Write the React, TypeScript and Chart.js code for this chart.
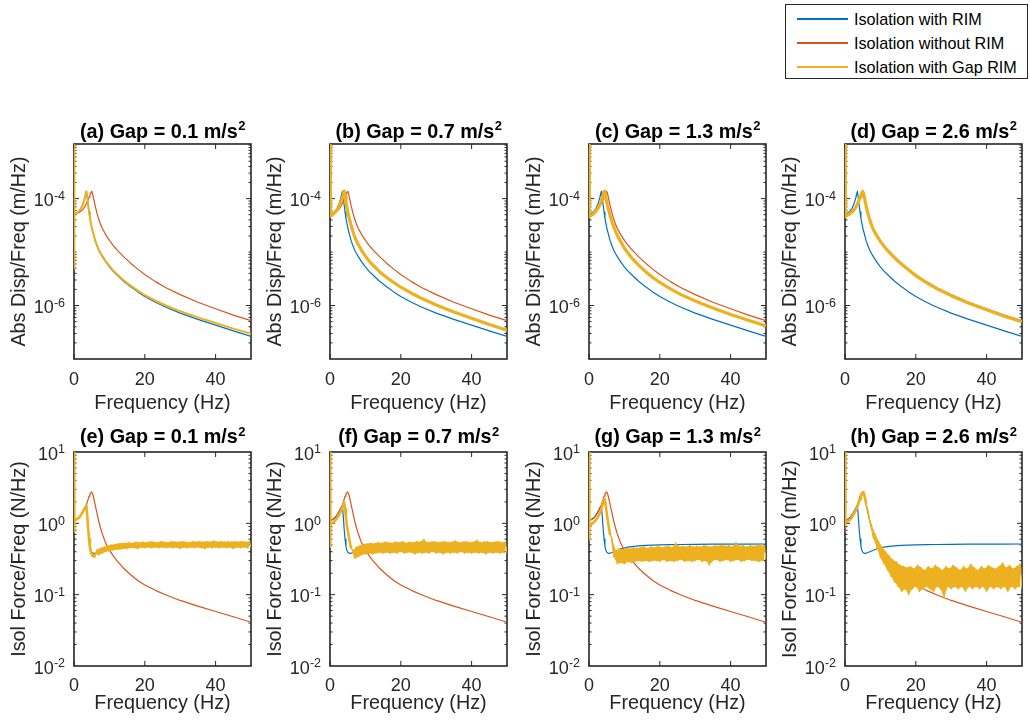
import React, { useEffect, useRef } from "react";
import { Chart, registerables } from "chart.js";

Chart.register(...registerables);

// ---------------- DATA ----------------
const LEGEND_LABELS = ["Isolation with RIM", "Isolation without RIM", "Isolation with Gap RIM"];
const PANEL_LETTERS = ["a", "b", "c", "d", "e", "f", "g", "h"];
const GAP_LEVELS = ["0.1", "0.7", "1.3", "2.6"];
const TITLE_UNIT = "m/s";
const TITLE_UNIT_EXP = "2";
const Y_LABELS_TOP = ["Abs Disp/Freq (m/Hz)", "Abs Disp/Freq (m/Hz)", "Abs Disp/Freq (m/Hz)", "Abs Disp/Freq (m/Hz)"];
const Y_LABELS_BOTTOM = ["Isol Force/Freq (N/Hz)", "Isol Force/Freq (N/Hz)", "Isol Force/Freq (N/Hz)", "Isol Force/Freq (m/Hz)"];
const X_LABEL = "Frequency (Hz)";

const X_TICKS = [0, 20, 40];
const X_TICK_LABELS = ["0", "20", "40"];
const DISP_TICKS = [1e-6, 1e-4];
const DISP_TICK_LABELS = [{ base: "10", exp: "-6" }, { base: "10", exp: "-4" }];
const FORCE_TICKS = [1e-2, 1e-1, 1, 10];
const FORCE_TICK_LABELS = [{ base: "10", exp: "-2" }, { base: "10", exp: "-1" }, { base: "10", exp: "0" }, { base: "10", exp: "1" }];
const DISP_RANGE = [1e-7, 1.05e-3];
const FORCE_RANGE = [1e-2, 10];

// frequency grid (Hz) for the smooth responses
const FREQ = [0, 0.05, 0.15, 0.5, 1, 1.5, 2, 2.5, 3, 3.25, 3.5, 3.75, 4, 4.25, 4.5, 4.75, 5, 5.25, 5.5, 5.75,
  6, 6.5, 7, 7.5, 8, 9, 10, 11, 12, 14, 16, 18, 20, 23, 26, 30, 35, 40, 45, 50];

// Abs Disp/Freq (m/Hz)
const DISP_RIM = [2e-2, 5.2e-5, 5.2e-5, 5.3e-5, 5.5e-5, 5.9e-5, 6.6e-5, 7.8e-5, 1.0e-4, 1.18e-4,
  1.37e-4, 1.05e-4, 7.6e-5, 5.6e-5, 4.3e-5, 3.5e-5, 2.9e-5, 2.45e-5, 2.15e-5, 1.85e-5,
  1.6e-5, 1.3e-5, 1.08e-5, 9.3e-6, 8.2e-6, 6.5e-6, 5.3e-6, 4.4e-6, 3.8e-6, 2.85e-6,
  2.25e-6, 1.8e-6, 1.48e-6, 1.15e-6, 9.3e-7, 7.2e-7, 5.5e-7, 4.3e-7, 3.35e-7, 2.65e-7];
const DISP_NO_RIM = [2e-2, 5.2e-5, 5.2e-5, 5.25e-5, 5.35e-5, 5.55e-5, 5.85e-5, 6.3e-5, 7.0e-5, 7.5e-5,
  8.1e-5, 8.8e-5, 9.7e-5, 1.07e-4, 1.18e-4, 1.28e-4, 1.37e-4, 1.22e-4, 1.02e-4, 8.6e-5,
  7.2e-5, 5.3e-5, 4.1e-5, 3.3e-5, 2.75e-5, 2.1e-5, 1.65e-5, 1.35e-5, 1.12e-5, 8.2e-6,
  6.2e-6, 4.8e-6, 3.8e-6, 2.8e-6, 2.15e-6, 1.6e-6, 1.15e-6, 8.7e-7, 6.6e-7, 5.2e-7];
const DISP_GAP_A = [2e-2, 5e-6, 5.2e-5, 5.3e-5, 5.5e-5, 5.9e-5, 6.6e-5, 7.8e-5, 1.0e-4, 1.18e-4,
  1.37e-4, 1.06e-4, 7.7e-5, 5.7e-5, 4.4e-5, 3.55e-5, 2.95e-5, 2.5e-5, 2.2e-5, 1.9e-5,
  1.64e-5, 1.33e-5, 1.11e-5, 9.6e-6, 8.5e-6, 6.7e-6, 5.5e-6, 4.6e-6, 3.95e-6, 2.97e-6,
  2.36e-6, 1.9e-6, 1.57e-6, 1.23e-6, 1.0e-6, 7.8e-7, 6.0e-7, 4.7e-7, 3.7e-7, 2.95e-7];
const DISP_GAP_B = [2e-2, 4.7e-5, 4.7e-5, 4.9e-5, 5.2e-5, 5.6e-5, 6.2e-5, 7.0e-5, 8.3e-5, 9.2e-5,
  1.04e-4, 1.2e-4, 1.38e-4, 1.12e-4, 8.8e-5, 7.0e-5, 5.7e-5, 4.8e-5, 4.1e-5, 3.55e-5,
  3.1e-5, 2.4e-5, 1.9e-5, 1.6e-5, 1.38e-5, 1.05e-5, 8.4e-6, 6.9e-6, 5.8e-6, 4.3e-6,
  3.35e-6, 2.7e-6, 2.2e-6, 1.7e-6, 1.35e-6, 1.02e-6, 7.6e-7, 5.8e-7, 4.4e-7, 3.45e-7];
const DISP_GAP_C = [2e-2, 4.6e-5, 4.6e-5, 4.8e-5, 5.0e-5, 5.4e-5, 5.9e-5, 6.6e-5, 7.6e-5, 8.3e-5,
  9.2e-5, 1.03e-4, 1.16e-4, 1.36e-4, 1.22e-4, 1.02e-4, 8.6e-5, 7.3e-5, 6.3e-5, 5.4e-5,
  4.7e-5, 3.65e-5, 2.95e-5, 2.45e-5, 2.05e-5, 1.55e-5, 1.18e-5, 9.6e-6, 7.9e-6, 5.7e-6,
  4.3e-6, 3.35e-6, 2.7e-6, 2.05e-6, 1.6e-6, 1.22e-6, 9.0e-7, 6.8e-7, 5.3e-7, 4.15e-7];
const DISP_GAP_D = [2e-2, 4.6e-5, 4.6e-5, 4.8e-5, 5.0e-5, 5.3e-5, 5.6e-5, 6.1e-5, 6.8e-5, 7.3e-5,
  7.9e-5, 8.6e-5, 9.5e-5, 1.05e-4, 1.16e-4, 1.27e-4, 1.36e-4, 1.24e-4, 1.03e-4, 8.6e-5,
  7.1e-5, 5.2e-5, 4.0e-5, 3.2e-5, 2.65e-5, 2.0e-5, 1.58e-5, 1.29e-5, 1.07e-5, 7.8e-6,
  5.9e-6, 4.6e-6, 3.62e-6, 2.67e-6, 2.05e-6, 1.53e-6, 1.1e-6, 8.3e-7, 6.3e-7, 5.0e-7];

// Isol Force/Freq
const FORCE_RIM = [100, 0.77, 1.11, 1.12, 1.16, 1.22, 1.32, 1.45, 1.62, 1.7,
  1.77, 1.25, 0.84, 0.6, 0.48, 0.42, 0.395, 0.385, 0.38, 0.38,
  0.383, 0.39, 0.4, 0.41, 0.42, 0.44, 0.455, 0.465, 0.472, 0.483,
  0.49, 0.495, 0.5, 0.503, 0.505, 0.508, 0.51, 0.511, 0.512, 0.513];
const FORCE_NO_RIM = [100, 0.77, 1.1, 1.11, 1.15, 1.2, 1.3, 1.43, 1.6, 1.7,
  1.82, 1.98, 2.18, 2.4, 2.58, 2.68, 2.75, 2.6, 2.35, 2.05,
  1.8, 1.38, 1.07, 0.86, 0.71, 0.52, 0.42, 0.355, 0.305, 0.235,
  0.19, 0.158, 0.137, 0.115, 0.099, 0.083, 0.069, 0.058, 0.049, 0.041];

// Gap RIM force: smooth part on FREQ[0..20] (0–6 Hz), noisy part on NOISE_FREQ
const NOISE_FREQ = [
  6.5, 7, 7.5, 8, 8.5, 9, 9.5, 10,
  10.5, 11, 11.5, 12, 12.5, 13, 13.5, 14,
  14.5, 15, 15.5, 16, 16.5, 17, 17.5, 18,
  18.5, 19, 19.5, 20, 20.5, 21, 21.5, 22,
  22.5, 23, 23.5, 24, 24.5, 25, 25.5, 26,
  26.5, 27, 27.5, 28, 28.5, 29, 29.5, 30,
  30.5, 31, 31.5, 32, 32.5, 33, 33.5, 34,
  34.5, 35, 35.5, 36, 36.5, 37, 37.5, 38,
  38.5, 39, 39.5, 40, 40.5, 41, 41.5, 42,
  42.5, 43, 43.5, 44, 44.5, 45, 45.5, 46,
  46.5, 47, 47.5, 48, 48.5, 49, 49.5, 50];

const FORCE_GAP_E_LOW = [100, 0.77, 1.1, 1.12, 1.16, 1.22, 1.32, 1.45, 1.62, 1.7,
  1.76, 1.25, 0.84, 0.6, 0.46, 0.4, 0.37, 0.35, 0.36, 0.34, 0.37];
const FORCE_GAP_F_LOW = [100, 0.47, 0.95, 1.0, 1.04, 1.1, 1.18, 1.3, 1.46, 1.56,
  1.68, 1.82, 1.98, 1.6, 1.2, 0.95, 0.8, 0.68, 0.58, 0.5, 0.44];
const FORCE_GAP_G_LOW = [100, 0.6, 0.9, 0.95, 1.0, 1.05, 1.12, 1.22, 1.38, 1.48,
  1.6, 1.75, 1.95, 2.15, 2.1, 1.75, 1.4, 1.15, 0.95, 0.8, 0.68];
const FORCE_GAP_H_LOW = [100, 0.95, 1.03, 1.05, 1.08, 1.13, 1.22, 1.34, 1.5, 1.6,
  1.72, 1.86, 2.02, 2.2, 2.4, 2.58, 2.7, 2.72, 2.45, 2.15, 1.85];

// alternating upper / lower readings of the noisy band
const FORCE_GAP_E_NOISE = [
  0.43, 0.36, 0.45, 0.38, 0.47, 0.40, 0.49, 0.41,
  0.50, 0.42, 0.51, 0.43, 0.52, 0.43, 0.53, 0.44,
  0.53, 0.44, 0.54, 0.45, 0.53, 0.45, 0.55, 0.44,
  0.54, 0.46, 0.55, 0.45, 0.54, 0.46, 0.56, 0.45,
  0.55, 0.46, 0.54, 0.45, 0.56, 0.46, 0.55, 0.45,
  0.54, 0.46, 0.56, 0.45, 0.55, 0.46, 0.55, 0.44,
  0.56, 0.46, 0.55, 0.45, 0.54, 0.46, 0.56, 0.45,
  0.55, 0.46, 0.56, 0.45, 0.55, 0.44, 0.56, 0.46,
  0.55, 0.45, 0.57, 0.46, 0.55, 0.45, 0.56, 0.46,
  0.55, 0.45, 0.56, 0.46, 0.55, 0.44, 0.56, 0.46,
  0.55, 0.45, 0.56, 0.46, 0.55, 0.45, 0.56, 0.46];
const FORCE_GAP_F_NOISE = [
  0.42, 0.32, 0.47, 0.34, 0.49, 0.36, 0.51, 0.37,
  0.52, 0.38, 0.53, 0.37, 0.52, 0.38, 0.54, 0.39,
  0.53, 0.38, 0.55, 0.39, 0.54, 0.38, 0.53, 0.39,
  0.55, 0.38, 0.54, 0.40, 0.56, 0.38, 0.53, 0.39,
  0.55, 0.39, 0.54, 0.37, 0.56, 0.39, 0.55, 0.38,
  0.60, 0.39, 0.54, 0.38, 0.55, 0.40, 0.56, 0.38,
  0.54, 0.39, 0.55, 0.37, 0.56, 0.39, 0.54, 0.38,
  0.55, 0.39, 0.57, 0.38, 0.54, 0.40, 0.55, 0.38,
  0.56, 0.39, 0.54, 0.38, 0.55, 0.39, 0.58, 0.38,
  0.54, 0.39, 0.55, 0.37, 0.56, 0.39, 0.54, 0.38,
  0.55, 0.39, 0.56, 0.38, 0.54, 0.39, 0.55, 0.38];
const FORCE_GAP_G_NOISE = [
  0.62, 0.34, 0.42, 0.27, 0.44, 0.28, 0.43, 0.27,
  0.45, 0.29, 0.44, 0.28, 0.46, 0.29, 0.45, 0.30,
  0.46, 0.29, 0.47, 0.30, 0.45, 0.29, 0.47, 0.30,
  0.46, 0.30, 0.48, 0.29, 0.46, 0.31, 0.47, 0.29,
  0.48, 0.30, 0.46, 0.29, 0.53, 0.30, 0.47, 0.31,
  0.48, 0.29, 0.47, 0.30, 0.49, 0.29, 0.47, 0.30,
  0.48, 0.31, 0.47, 0.29, 0.49, 0.30, 0.48, 0.26,
  0.47, 0.30, 0.49, 0.31, 0.48, 0.29, 0.50, 0.30,
  0.48, 0.31, 0.49, 0.29, 0.47, 0.30, 0.54, 0.31,
  0.48, 0.29, 0.49, 0.30, 0.47, 0.31, 0.49, 0.30,
  0.48, 0.30, 0.49, 0.29, 0.50, 0.30, 0.48, 0.31];
const FORCE_GAP_H_NOISE = [
  1.5, 1.05, 0.95, 0.62, 0.72, 0.45, 0.56, 0.33,
  0.47, 0.27, 0.40, 0.22, 0.35, 0.18, 0.31, 0.15,
  0.29, 0.13, 0.26, 0.11, 0.25, 0.12, 0.24, 0.10,
  0.25, 0.12, 0.23, 0.13, 0.26, 0.11, 0.24, 0.12,
  0.22, 0.13, 0.25, 0.12, 0.23, 0.11, 0.26, 0.13,
  0.24, 0.12, 0.22, 0.09, 0.25, 0.13, 0.23, 0.12,
  0.26, 0.13, 0.24, 0.12, 0.22, 0.13, 0.25, 0.11,
  0.23, 0.13, 0.27, 0.12, 0.24, 0.13, 0.22, 0.12,
  0.25, 0.13, 0.23, 0.11, 0.26, 0.13, 0.24, 0.12,
  0.23, 0.13, 0.25, 0.12, 0.28, 0.13, 0.24, 0.11,
  0.26, 0.13, 0.23, 0.12, 0.25, 0.13, 0.27, 0.12];

// ---------------- STYLE / LAYOUT ----------------
const FONT = '"Liberation Sans", Arial, Helvetica, sans-serif';
const AXIS_COLOR = "#262626";
const SERIES_COLORS = ["#0072BD", "#D95319", "#EDB120"];
const COL_LEFT = [74, 330, 589, 845];
const PLOT_W = 177;
const Y_AXIS_W = 66;
const PAD_LEFT = 8;
const ROWS = [
  { plotTop: 144, plotH: 215, titleGap: 13.5, xTickPad: 2.7, xAxisH: 56 },
  { plotTop: 452, plotH: 214, titleGap: 16, xTickPad: 1.2, xAxisH: 49 },
];

type Pt = { x: number; y: number };
const pts = (xs: number[], ys: number[]): Pt[] => ys.map((y, i) => ({ x: xs[i], y }));

const framePlugin: any = {
  id: "frame",
  beforeDatasetsDraw(chart: any, _a: any, opts: any) {
    const { ctx, chartArea } = chart;
    const { left, top, right, bottom } = chartArea;
    const xs = chart.scales.x;
    const ys = chart.scales.y;
    ctx.save();
    ctx.strokeStyle = AXIS_COLOR;
    ctx.lineWidth = 1;
    ctx.beginPath();
    for (const v of X_TICKS) {
      const px = xs.getPixelForValue(v);
      ctx.moveTo(px, bottom);
      ctx.lineTo(px, bottom - 5);
      ctx.moveTo(px, top);
      ctx.lineTo(px, top + 5);
    }
    const mn = ys.min, mx = ys.max;
    for (let d = Math.floor(Math.log10(mn)); d <= Math.ceil(Math.log10(mx)); d++) {
      for (let m = 1; m <= 9; m++) {
        const v = m * Math.pow(10, d);
        if (v <= mn * 1.0001 || v >= mx * 0.9999) continue;
        const isMajor = opts.majors.some((t: number) => Math.abs(t - v) / t < 1e-6);
        const len = isMajor ? 5 : 2.5;
        const py = ys.getPixelForValue(v);
        ctx.moveTo(left, py);
        ctx.lineTo(left + len, py);
        ctx.moveTo(right, py);
        ctx.lineTo(right - len, py);
      }
    }
    ctx.stroke();
    ctx.lineWidth = 1.6;
    ctx.strokeRect(left, top, right - left, bottom - top);
    ctx.restore();
  },
  afterDraw(chart: any, _a: any, opts: any) {
    const { ctx, chartArea } = chart;
    const ys = chart.scales.y;
    ctx.save();
    // y tick labels: 10 with raised exponent
    ctx.fillStyle = AXIS_COLOR;
    ctx.textBaseline = "alphabetic";
    ctx.textAlign = "left";
    opts.majors.forEach((v: number, i: number) => {
      const lab = opts.labels[i];
      const py = ys.getPixelForValue(v);
      const rightX = chartArea.left - 9;
      ctx.font = `12.5px ${FONT}`;
      const ew = ctx.measureText(lab.exp).width;
      ctx.font = `18px ${FONT}`;
      const bw = ctx.measureText(lab.base).width;
      const base = py + 7.8;
      ctx.fillText(lab.base, rightX - ew - bw, base);
      ctx.font = `12.5px ${FONT}`;
      ctx.fillText(lab.exp, rightX - ew, base - 6.5);
    });
    // title with superscript
    ctx.fillStyle = "#000";
    ctx.font = `bold 19.8px ${FONT}`;
    const tw = ctx.measureText(opts.title).width;
    ctx.font = `bold 13px ${FONT}`;
    const sw = ctx.measureText(opts.titleExp).width;
    const cx = (chartArea.left + chartArea.right) / 2;
    const x0 = cx - (tw + sw) / 2;
    const baseY = chartArea.top - opts.titleGap + 7.1;
    ctx.font = `bold 19.8px ${FONT}`;
    ctx.fillText(opts.title, x0, baseY);
    ctx.font = `bold 13px ${FONT}`;
    ctx.fillText(opts.titleExp, x0 + tw + 0.5, baseY - 7.3);
    ctx.restore();
  },
};

type PanelDef = {
  key: string;
  row: number;
  col: number;
  title: string;
  yLabel: string;
  datasets: any[];
};

const TOP_GAPS = [DISP_GAP_A, DISP_GAP_B, DISP_GAP_C, DISP_GAP_D];
const BOTTOM_GAPS_LOW = [FORCE_GAP_E_LOW, FORCE_GAP_F_LOW, FORCE_GAP_G_LOW, FORCE_GAP_H_LOW];
const BOTTOM_GAPS_NOISE = [FORCE_GAP_E_NOISE, FORCE_GAP_F_NOISE, FORCE_GAP_G_NOISE, FORCE_GAP_H_NOISE];

const line = (label: string, data: Pt[], color: string, width: number, order: number, extra: any = {}) => ({
  label, data, borderColor: color, borderWidth: width, order, ...extra,
});

const PANELS: PanelDef[] = [];
for (let c = 0; c < 4; c++) {
  PANELS.push({
    key: PANEL_LETTERS[c], row: 0, col: c,
    title: `(${PANEL_LETTERS[c]}) Gap = ${GAP_LEVELS[c]} ${TITLE_UNIT}`,
    yLabel: Y_LABELS_TOP[c],
    datasets: [
      line(LEGEND_LABELS[2], pts(FREQ, TOP_GAPS[c]), SERIES_COLORS[2], c === 0 ? 2 : 3.2, 0),
      line(LEGEND_LABELS[1], pts(FREQ, DISP_NO_RIM), SERIES_COLORS[1], 1.2, 1),
      line(LEGEND_LABELS[0], pts(FREQ, DISP_RIM), SERIES_COLORS[0], 1.2, 2),
    ],
  });
}
for (let c = 0; c < 4; c++) {
  const low = pts(FREQ.slice(0, 21), BOTTOM_GAPS_LOW[c]);
  const noise = pts(NOISE_FREQ, BOTTOM_GAPS_NOISE[c]);
  const joint = low[low.length - 1];
  const upper = [joint].concat(noise.filter((_, i) => i % 2 === 0));
  const lower = [joint].concat(noise.filter((_, i) => i % 2 === 1));
  PANELS.push({
    key: PANEL_LETTERS[c + 4], row: 1, col: c,
    title: `(${PANEL_LETTERS[c + 4]}) Gap = ${GAP_LEVELS[c]} ${TITLE_UNIT}`,
    yLabel: Y_LABELS_BOTTOM[c],
    datasets: [
      line(LEGEND_LABELS[2], low, SERIES_COLORS[2], 2.6, 0),
      line(LEGEND_LABELS[2], [joint].concat(noise), SERIES_COLORS[2], 1.3, 0.1),
      line(LEGEND_LABELS[2], upper, "rgba(0,0,0,0)", 1, 0.2, { fill: "+1", backgroundColor: SERIES_COLORS[2] }),
      line(LEGEND_LABELS[2], lower, "rgba(0,0,0,0)", 1, 0.3),
      line(LEGEND_LABELS[1], pts(FREQ, FORCE_NO_RIM), SERIES_COLORS[1], 1.2, 1),
      line(LEGEND_LABELS[0], pts(FREQ, FORCE_RIM), SERIES_COLORS[0], 1.2, 2),
    ],
  });
}

function PanelChart({ p }: { p: PanelDef }) {
  const ref = useRef<HTMLCanvasElement | null>(null);
  const row = ROWS[p.row];
  const W = PAD_LEFT + Y_AXIS_W + PLOT_W + 8;
  const H = 40 + row.plotH + row.xAxisH;
  const left = COL_LEFT[p.col] - PAD_LEFT - Y_AXIS_W;
  const top = row.plotTop - 40;
  useEffect(() => {
    const isTop = p.row === 0;
    const yTicks = isTop ? DISP_TICKS : FORCE_TICKS;
    const yLabels = isTop ? DISP_TICK_LABELS : FORCE_TICK_LABELS;
    const yRange = isTop ? DISP_RANGE : FORCE_RANGE;
    const chart = new Chart(ref.current as HTMLCanvasElement, {
      type: "line",
      data: { datasets: p.datasets } as any,
      options: {
        responsive: false,
        animation: false,
        events: [],
        layout: { padding: { left: PAD_LEFT, top: 40, right: 8, bottom: 0 } },
        elements: {
          point: { radius: 0 },
          line: { tension: 0, borderJoinStyle: "round", fill: false },
        },
        plugins: {
          legend: { display: false },
          tooltip: { enabled: false },
          title: { display: false },
          filler: { propagate: false },
          frame: { title: p.title, titleExp: TITLE_UNIT_EXP, titleGap: row.titleGap, majors: yTicks, labels: yLabels },
        } as any,
        scales: {
          x: {
            type: "linear",
            min: 0,
            max: 50,
            afterBuildTicks: (s: any) => { s.ticks = X_TICKS.map((v) => ({ value: v })); },
            afterFit: (s: any) => { s.height = row.xAxisH; },
            grid: { display: false },
            border: { display: false },
            ticks: {
              autoSkip: false,
              maxRotation: 0,
              padding: row.xTickPad,
              color: AXIS_COLOR,
              font: { family: FONT, size: 18 },
              callback: (_v: any, i: number) => X_TICK_LABELS[i],
            },
            title: { display: true, text: X_LABEL, color: AXIS_COLOR, font: { family: FONT, size: 19.8 }, padding: 0 },
          },
          y: {
            type: "logarithmic",
            min: yRange[0],
            max: yRange[1],
            afterBuildTicks: (s: any) => { s.ticks = yTicks.map((v) => ({ value: v })); },
            afterFit: (s: any) => { s.width = Y_AXIS_W; },
            grid: { display: false },
            border: { display: false },
            ticks: { display: false },
            title: { display: true, text: p.yLabel, color: AXIS_COLOR, font: { family: FONT, size: 19.8 }, padding: 0 },
          },
        } as any,
      },
      plugins: [framePlugin],
    });
    return () => chart.destroy();
  }, []);
  return (
    <canvas
      ref={ref}
      width={W}
      height={H}
      style={{ position: "absolute", left, top, width: W, height: H }}
    />
  );
}

function Legend() {
  return (
    <div
      style={{
        position: "absolute", left: 785, top: 4, width: 243, height: 75, boxSizing: "border-box",
        border: `1px solid ${AXIS_COLOR}`, background: "#fff",
      }}
    >
      {LEGEND_LABELS.map((label, i) => (
        <div
          key={label}
          style={{ position: "absolute", left: 11, top: 2 + i * 24, height: 24, display: "flex", alignItems: "center", whiteSpace: "nowrap" }}
        >
          <div style={{ width: 51, height: 2, background: SERIES_COLORS[i] }} />
          <span style={{ marginLeft: 6, fontSize: 16.2, fontFamily: FONT, color: "#000", lineHeight: "24px" }}>{label}</span>
        </div>
      ))}
    </div>
  );
}

export default function App() {
  return (
    <div style={{ position: "absolute", left: 0, top: 0, width: 1030, height: 724, background: "#fff", overflow: "hidden" }}>
      {PANELS.map((p) => (
        <PanelChart key={p.key} p={p} />
      ))}
      <Legend />
    </div>
  );
}
